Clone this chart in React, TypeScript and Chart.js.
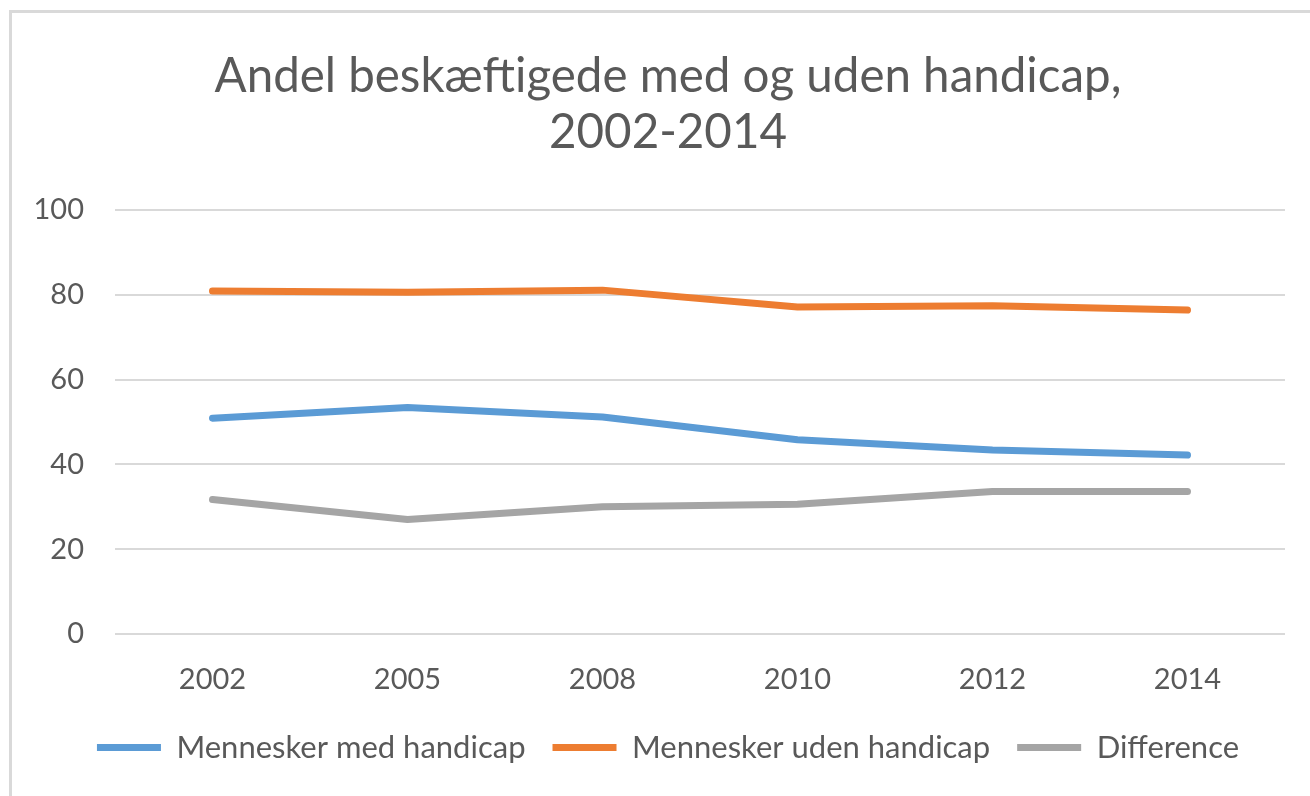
import React, { useEffect, useRef } from "react";
import { Chart, registerables } from "chart.js";

Chart.register(...registerables);

const years = ["2002", "2005", "2008", "2010", "2012", "2014"];
const withHandicap = [50.9, 53.4, 51.2, 45.8, 43.4, 42.2];
const withoutHandicap = [80.9, 80.6, 81.1, 77.1, 77.4, 76.4];
const difference = [31.7, 27.0, 30.0, 30.6, 33.6, 33.6];
const seriesNames = ["Mennesker med handicap", "Mennesker uden handicap", "Difference"];
const titleLines = ["Andel beskæftigede med og uden handicap,", "2002-2014"];

const FONT = "Lato, 'Open Sans', sans-serif";
const TEXT = "#595959";
const CANVAS_W = 1336;

export default function App() {
  const ref = useRef<HTMLCanvasElement | null>(null);

  useEffect(() => {
    if (!ref.current) return;
    const mk = (label: string, data: number[], color: string) => ({
      label,
      data,
      yAxisID: "y",
      borderColor: color,
      backgroundColor: color,
      borderWidth: 7,
      borderCapStyle: "round" as const,
      borderJoinStyle: "round" as const,
      pointRadius: 0,
      pointHoverRadius: 0,
      pointStyle: "line" as const,
      tension: 0,
      fill: false,
    });
    const chart = new Chart(ref.current, {
      type: "line",
      data: {
        labels: years,
        datasets: [
          mk(seriesNames[0], withHandicap, "#5B9BD5"),
          mk(seriesNames[1], withoutHandicap, "#ED7D31"),
          mk(seriesNames[2], difference, "#A5A5A5"),
        ],
      },
      options: {
        animation: false,
        responsive: false,
        maintainAspectRatio: false,
        layout: { padding: { left: 0, right: 0, top: 0, bottom: 23 } },
        plugins: {
          tooltip: { enabled: false },
          title: {
            display: true,
            text: titleLines,
            color: TEXT,
            font: { family: FONT, size: 47.5, weight: "normal", lineHeight: 56 / 47.5 },
            padding: { top: 49, bottom: 49 },
          },
          legend: {
            position: "bottom",
            labels: {
              usePointStyle: true,
              pointStyleWidth: 64,
              color: TEXT,
              font: { family: FONT, size: 31 },
              padding: 27,
            },
          },
        },
        scales: {
          x: {
            offset: true,
            grid: { display: false, drawTicks: false },
            border: { display: false },
            ticks: { color: TEXT, font: { family: FONT, size: 29 }, padding: 28 },
            afterFit: (s: any) => {
              s.height = 71;
            },
          },
          y: {
            min: 0,
            max: 100,
            ticks: { stepSize: 20, color: TEXT, font: { family: FONT, size: 29 }, padding: 31 },
            grid: { color: "#D9D9D9", lineWidth: 2, drawTicks: false },
            border: { display: false },
            afterFit: (s: any) => {
              s.width = 115;
            },
          },
          spacer: {
            type: "linear",
            position: "right",
            grid: { display: false, drawTicks: false },
            border: { display: false },
            ticks: { display: false },
            afterFit: (s: any) => {
              s.width = 51;
            },
          },
        },
      },
    });
    return () => chart.destroy();
  }, []);

  return (
    <div style={{ position: "fixed", left: 0, top: 0, width: 1310, height: 796, background: "#fff", overflow: "hidden" }}>
      <div
        style={{
          position: "absolute",
          left: 9,
          top: 10,
          width: 1400,
          height: 900,
          borderLeft: "3px solid #D9D9D9",
          borderTop: "3px solid #D9D9D9",
        }}
      />
      <canvas ref={ref} width={CANVAS_W} height={796} style={{ position: "absolute", left: 0, top: 0 }} />
    </div>
  );
}
